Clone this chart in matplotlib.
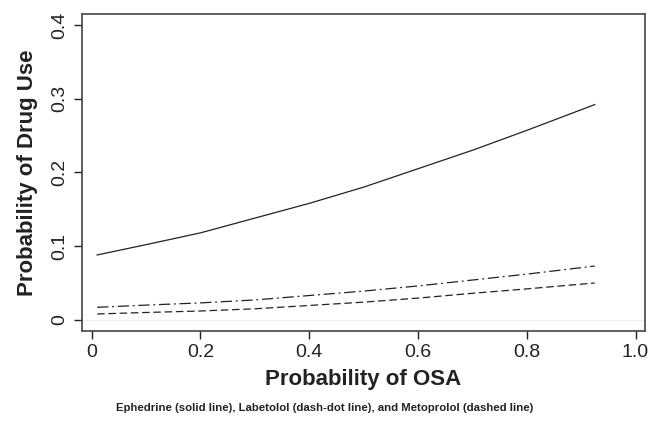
import matplotlib.pyplot as plt
from matplotlib import font_manager

osa = [0.01, 0.1, 0.2, 0.3, 0.4, 0.5, 0.6, 0.7, 0.8, 0.925]
ephedrine = [0.088, 0.102, 0.118, 0.138, 0.158, 0.180, 0.205, 0.230, 0.257, 0.292]
labetolol = [0.017, 0.020, 0.023, 0.027, 0.033, 0.039, 0.046, 0.054, 0.062, 0.073]
metoprolol = [0.008, 0.010, 0.012, 0.015, 0.0195, 0.024, 0.0295, 0.036, 0.042, 0.050]

xticks = [0, 0.2, 0.4, 0.6, 0.8, 1.0]
xticklabels = ["0", "0.2", "0.4", "0.6", "0.8", "1.0"]
yticks = [0, 0.1, 0.2, 0.3, 0.4]
yticklabels = ["0", "0.1", "0.2", "0.3", "0.4"]

names = {f.name for f in font_manager.fontManager.ttflist}
narrow = "Liberation Sans Narrow" if "Liberation Sans Narrow" in names else "Liberation Sans"
plt.rcParams["font.family"] = [narrow, "DejaVu Sans"]

fig = plt.figure(figsize=(6.5, 4.21), dpi=100)
ax = fig.add_axes([0.126, 0.214, 0.866, 0.753])

ax.axhline(0, color="#eeeeee", lw=0.8, zorder=0)
ax.plot(osa, ephedrine, color="#222222", lw=0.9, ls="-")
ax.plot(osa, labetolol, color="#222222", lw=0.9, dashes=(9, 3, 1.5, 3))
ax.plot(osa, metoprolol, color="#222222", lw=0.9, dashes=(6, 3))

ax.set_xlim(-0.018, 1.017)
ax.set_ylim(-0.015, 0.415)
ax.set_xticks(xticks)
ax.set_xticklabels(xticklabels, fontsize=14, color="#222222")
ax.set_yticks(yticks)
ax.set_yticklabels(yticklabels, fontsize=14, color="#222222", rotation=90, va="center")
ax.tick_params(direction="out", length=6, width=1, color="#222222")

for s in ax.spines.values():
    s.set_color("#444444")
    s.set_linewidth(1.2)

ax.set_xlabel("Probability of OSA", fontsize=16, fontweight="bold", color="#222222", labelpad=6)
ax.set_ylabel("Probability of Drug Use", fontsize=16, fontweight="bold", color="#222222", labelpad=10)

fig.text(0.5, 0.031,
         "Ephedrine (solid line), Labetolol (dash-dot line), and Metoprolol (dashed line)",
         ha="center", va="center", fontsize=8.2, fontweight="bold", color="#222222")

fig.savefig("out.png", dpi=100)
